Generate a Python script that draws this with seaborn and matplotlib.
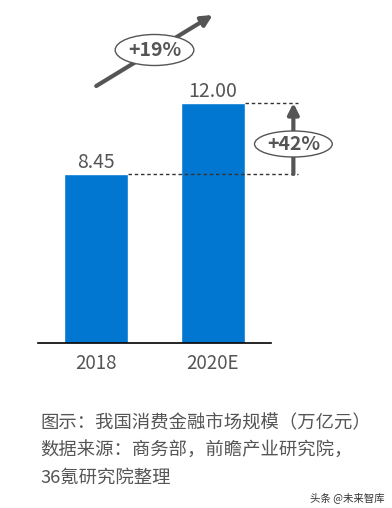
import matplotlib
matplotlib.use("Agg")
import matplotlib.pyplot as plt
from matplotlib.patches import Ellipse
import seaborn as sns
import pandas as pd

# data
years = ["2018", "2020E"]
scale = [8.45, 12.00]
growth_label = "+19%"
diff_label = "+42%"
caption = ["图示：我国消费金融市场规模（万亿元）",
           "数据来源：商务部，前瞻产业研究院，",
           "36氪研究院整理"]
watermark = "头条 @未来智库"

df = pd.DataFrame({"year": years, "value": scale})

sns.set_theme(style="white")
plt.rcParams['font.family'] = ['Noto Sans CJK SC', 'DejaVu Sans']

blue = "#0277D1"
gray = "#555555"

fig = plt.figure(figsize=(3.92, 5.08), dpi=100)
ax = fig.add_axes([38 / 392, 165 / 508, 233 / 392, 330 / 508])

sns.barplot(data=df, x="year", y="value", color=blue, width=0.547,
            saturation=1, ax=ax)
ax.set_xlim(-0.5, 1.5)
ax.set_ylim(0, 16.5)

for s in ["top", "right", "left"]:
    ax.spines[s].set_visible(False)
ax.spines["bottom"].set_color("black")
ax.spines["bottom"].set_linewidth(1.2)
ax.set_yticks([])
ax.set_xlabel("")
ax.set_ylabel("")
ax.tick_params(axis="x", length=0, pad=7, labelsize=13.5, labelcolor=gray)

# value labels
for p in ax.patches:
    ax.annotate(f"{p.get_height():.2f}",
                (p.get_x() + p.get_width() / 2., p.get_height()),
                ha="center", va="bottom", xytext=(0, 1),
                textcoords="offset points", fontsize=14, color=gray)

# dashed guide lines
bar_right = [p.get_x() + p.get_width() for p in ax.patches]
for xr, v in zip(bar_right, scale):
    ax.plot([xr, 1.73], [v, v], ls=(0, (2.5, 2)), lw=1, color="#333333",
            clip_on=False)

# vertical arrow with +42%
ax.annotate("", xy=(1.692, scale[1]), xytext=(1.692, scale[0]),
            arrowprops=dict(arrowstyle="-|>", lw=3, color=gray,
                            mutation_scale=16, shrinkA=0, shrinkB=0),
            annotation_clip=False)
ax.add_patch(Ellipse((1.692, 9.95), 0.667, 1.3, facecolor="white",
                     edgecolor=gray, lw=1, clip_on=False, zorder=5))
ax.text(1.692, 9.95, diff_label, ha="center", va="center", fontsize=14,
        fontweight="bold", color=gray, zorder=6)

# diagonal growth arrow with +19%
ax.annotate("", xy=(1.0, 16.4), xytext=(0.0, 12.85),
            arrowprops=dict(arrowstyle="-|>", lw=3, color=gray,
                            mutation_scale=16, shrinkA=0, shrinkB=0),
            annotation_clip=False)
ax.add_patch(Ellipse((0.5, 14.65), 0.675, 1.55, facecolor="white",
                     edgecolor=gray, lw=1, clip_on=False, zorder=5))
ax.text(0.5, 14.65, growth_label, ha="center", va="center", fontsize=14,
        fontweight="bold", color=gray, zorder=6)

# caption
for i, line in enumerate(caption):
    fig.text(40 / 392, 1 - (423 + i * 27.5) / 508, line, ha="left",
             va="center", fontsize=13.2, color=gray)

fig.text(385 / 392, 1 - 498 / 508, watermark, ha="right", va="center",
         fontsize=7.5, color="#333333")

fig.savefig("out.png", dpi=100)
